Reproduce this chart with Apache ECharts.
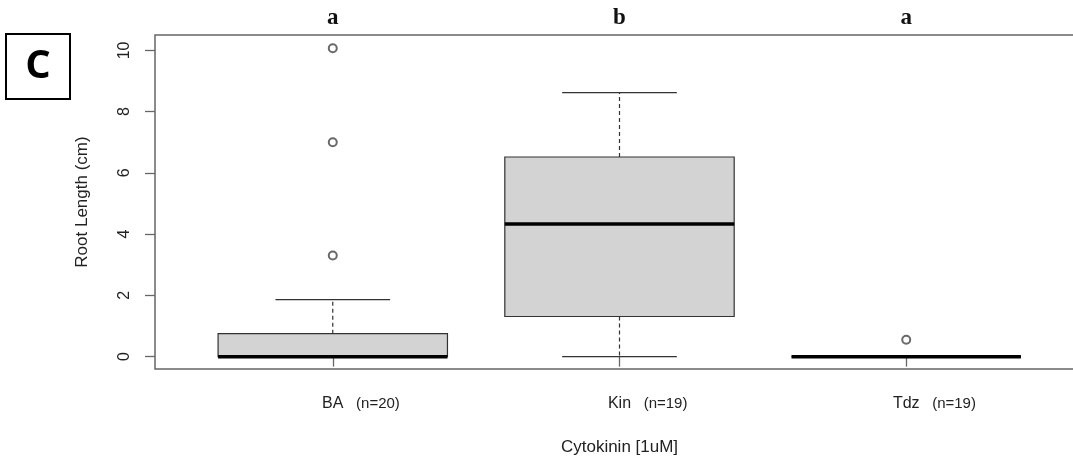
<!DOCTYPE html>
<html>
<head>
<meta charset="utf-8">
<script src="https://cdn.jsdelivr.net/npm/echarts@6/dist/echarts.min.js"></script>
<style>
  html, body { margin: 0; padding: 0; background: #fff; }
  #main { width: 1073px; height: 459px; }
</style>
</head>
<body>
<div id="main"></div>
<script>
// box statistics (root length, cm)
var categories = ["BA", "Kin", "Tdz"];
var counts = [20, 19, 19];
var sigLetters = ["a", "b", "a"];
var whiskerLow = [0, 0, 0];
var q1 = [0, 1.31, 0];
var median = [0, 4.33, 0];
var q3 = [0.75, 6.52, 0];
var whiskerHigh = [1.86, 8.62, 0];
var outliers = [[3.30, 7.0, 10.07], [], [0.55]];
var yTicks = [0, 2, 4, 6, 8, 10];

var chartDom = document.getElementById("main");
var myChart = echarts.init(chartDom);

var boxData = categories.map(function (c, i) {
  return [i + 1, whiskerLow[i], q1[i], median[i], q3[i], whiskerHigh[i]];
});
var outlierData = [];
outliers.forEach(function (list, i) {
  list.forEach(function (v) { outlierData.push([i + 1, v]); });
});

function renderBox(params, api) {
  var x = api.value(0);
  var lo = api.coord([x, api.value(1)]);
  var b1 = api.coord([x, api.value(2)]);
  var md = api.coord([x, api.value(3)]);
  var b3 = api.coord([x, api.value(4)]);
  var hi = api.coord([x, api.value(5)]);
  var boxW = api.size([0.8, 0])[0];
  var capW = api.size([0.4, 0])[0];
  var cx = lo[0];
  var dash = { stroke: "#333", lineWidth: 1.2, lineDash: [4, 3] };
  var solid = { stroke: "#333", lineWidth: 1.2 };
  return {
    type: "group",
    children: [
      { type: "line", shape: { x1: cx, y1: b3[1], x2: cx, y2: hi[1] }, style: dash },
      { type: "line", shape: { x1: cx, y1: b1[1], x2: cx, y2: lo[1] }, style: dash },
      { type: "line", shape: { x1: cx - capW / 2, y1: hi[1], x2: cx + capW / 2, y2: hi[1] }, style: solid },
      { type: "line", shape: { x1: cx - capW / 2, y1: lo[1], x2: cx + capW / 2, y2: lo[1] }, style: solid },
      { type: "rect", shape: { x: cx - boxW / 2, y: b3[1], width: boxW, height: b1[1] - b3[1] },
        style: { fill: "#d3d3d3", stroke: "#333", lineWidth: 1.2 } },
      { type: "line", shape: { x1: cx - boxW / 2, y1: md[1], x2: cx + boxW / 2, y2: md[1] },
        style: { stroke: "#000", lineWidth: 3.5 } }
    ]
  };
}

var option = {
  animation: false,
  textStyle: { fontFamily: "Liberation Sans, Arial, sans-serif" },
  grid: {
    left: 155, top: 35, width: 929, height: 334,
    outerBoundsMode: "none",
    show: true, borderColor: "#666", borderWidth: 1.5, backgroundColor: "transparent"
  },
  xAxis: [
    {
      type: "value", min: 0.38, max: 3.62,
      name: "Cytokinin [1uM]", nameLocation: "middle", nameGap: 70,
      nameTextStyle: { fontSize: 17, color: "#222" },
      axisLine: { show: false },
      splitLine: { show: false },
      axisTick: { show: true, length: 10, customValues: [1, 2, 3], lineStyle: { color: "#666", width: 1.3 } },
      axisLabel: {
        customValues: [1, 2, 3], margin: 27,
        formatter: function (v) {
          var i = Math.round(v) - 1;
          return "{sp|}{nm|" + categories[i] + "}{n|(n=" + counts[i] + ")}";
        },
        rich: {
          sp: { width: 58 },
          nm: { fontSize: 16, color: "#222" },
          n: { fontSize: 15, color: "#222", width: 47, padding: [0, 0, 0, 11] }
        }
      }
    },
    {
      type: "value", min: 0.38, max: 3.62, position: "top",
      axisLine: { show: false }, axisTick: { show: false }, splitLine: { show: false },
      axisLabel: {
        customValues: [1, 2, 3], margin: 5,
        fontFamily: "Liberation Serif, serif", fontWeight: "bold", fontSize: 23, color: "#111",
        formatter: function (v) { return sigLetters[Math.round(v) - 1]; }
      }
    }
  ],
  yAxis: {
    type: "value", min: -0.404, max: 10.504,
    name: "Root Length (cm)", nameLocation: "middle", nameGap: 64,
    nameTextStyle: { fontSize: 17, color: "#222" },
    axisLine: { show: false },
    splitLine: { show: false },
    axisTick: { show: true, length: 10, customValues: yTicks, lineStyle: { color: "#666", width: 1.3 } },
    axisLabel: { customValues: yTicks, rotate: 90, margin: 22, fontSize: 16, color: "#222" }
  },
  graphic: [
    {
      type: "group", left: 5, top: 33,
      children: [
        { type: "rect", shape: { x: 0, y: 0, width: 64, height: 65 },
          style: { fill: "#fff", stroke: "#000", lineWidth: 2 } },
        { type: "text", x: 32, y: 33,
          style: { text: "C", fontSize: 40, fontWeight: "bold", fontFamily: "Open Sans, sans-serif",
                   fill: "#000", align: "center", verticalAlign: "middle" } }
      ]
    }
  ],
  series: [
    { type: "custom", renderItem: renderBox, data: boxData, xAxisIndex: 0, clip: false, z: 2 },
    {
      type: "scatter", data: outlierData, xAxisIndex: 0, yAxisIndex: 0,
      symbol: "emptyCircle", symbolSize: 8,
      itemStyle: { color: "#444", borderColor: "#444", borderWidth: 0.9 }, z: 3
    }
  ]
};

option && myChart.setOption(option);
</script>
</body>
</html>
